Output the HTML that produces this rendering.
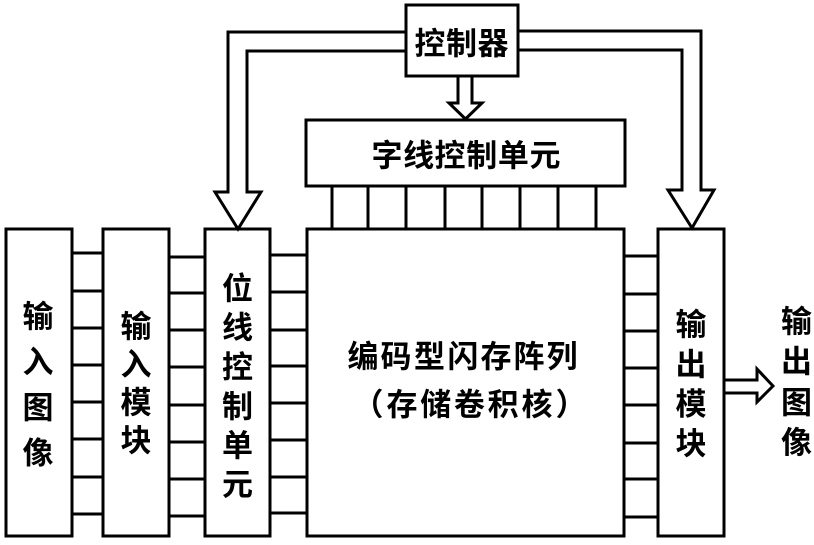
<!DOCTYPE html>
<html><head><meta charset="utf-8"><style>
html,body{margin:0;padding:0;background:#fff;}
svg{display:block;}
text{font-family:"Liberation Sans","Noto Sans CJK SC","WenQuanYi Zen Hei",sans-serif;font-weight:700;font-size:31px;fill:#000;dominant-baseline:central;text-anchor:middle;}
</style></head><body>
<svg width="814" height="545" viewBox="0 0 814 545" xmlns="http://www.w3.org/2000/svg">
<g fill="none" stroke="#000" stroke-width="3">
  <!-- boxes -->
  <rect x="6" y="229" width="66" height="307" fill="#fff"/>
  <rect x="103" y="229" width="66" height="307" fill="#fff"/>
  <rect x="205" y="229" width="65" height="307" fill="#fff"/>
  <rect x="307" y="229" width="317" height="307" fill="#fff"/>
  <rect x="658" y="229" width="66" height="307" fill="#fff"/>
  <rect x="306" y="120" width="319" height="66" fill="#fff"/>
  <rect x="406" y="5" width="112" height="71" fill="#fff"/>

  <!-- box1-box2 connectors -->
  <path d="M72 253H103M72 291H103M72 328H103M72 365H103M72 402H103M72 439H103M72 477H103M72 514H103"/>
  <!-- box2-box3 connectors -->
  <path d="M169 257H205M169 293H205M169 330H205M169 367H205M169 405H205M169 442H205M169 479H205M169 516H205"/>
  <!-- box3-main connectors -->
  <path d="M270 255H307M270 292H307M270 330H307M270 366H307M270 403H307M270 440H307M270 477H307M270 513H307"/>
  <!-- main-output connectors -->
  <path d="M624 256H658M624 294H658M624 331H658M624 368H658M624 405H658M624 443H658M624 479H658M624 517H658"/>
  <!-- word line verticals -->
  <path d="M332 186V229M368 186V229M406 186V229M445 186V229M482 186V229M520 186V229M558 186V229M596 186V229"/>

  <!-- left fat arrow -->
  <path d="M406 32H228V192H215L238 229L261 192H247V51H406" stroke-linejoin="miter"/>
  <!-- right fat arrow -->
  <path d="M518 31H701V190H714L692 228L668 190H682V50H518" stroke-linejoin="miter"/>
  <!-- down arrow from controller -->
  <path d="M458 76V103H449L465.5 119L482 103H472V76"/>
  <!-- output arrow -->
  <path d="M724 380H757V369L773 386L757 402V393H724"/>
</g>

<!-- controller -->
<text x="430 461.5 493" y="44">控制器</text>
<!-- word line -->
<text x="387 418.6 450 481.8 513.4 545" y="156">字线控制单元</text>

<!-- main array -->
<text x="363 396 429.5 463 496 529 562" y="357">编码型闪存阵列</text>
<text x="368 402 435.7 469.4 503.1 537 571" y="405">（存储卷积核）</text>

<!-- box1 -->
<text x="38" y="317">输</text>
<text x="38" y="362.5">入</text>
<text x="38" y="408">图</text>
<text x="38" y="453.5">像</text>

<!-- box2 -->
<text x="136" y="327">输</text>
<text x="136" y="365">入</text>
<text x="136" y="403">模</text>
<text x="136" y="441">块</text>

<!-- box3 -->
<text x="237.5" y="289">位</text>
<text x="237.5" y="328">线</text>
<text x="237.5" y="367.5">控</text>
<text x="237.5" y="407">制</text>
<text x="237.5" y="446">单</text>
<text x="237.5" y="485">元</text>

<!-- output module -->
<text x="691" y="325">输</text>
<text x="691" y="365">出</text>
<text x="691" y="404.5">模</text>
<text x="691" y="444">块</text>

<!-- output image -->
<text x="796.5" y="322">输</text>
<text x="796.5" y="362">出</text>
<text x="796.5" y="403">图</text>
<text x="796.5" y="443">像</text>
</svg>
</body></html>
